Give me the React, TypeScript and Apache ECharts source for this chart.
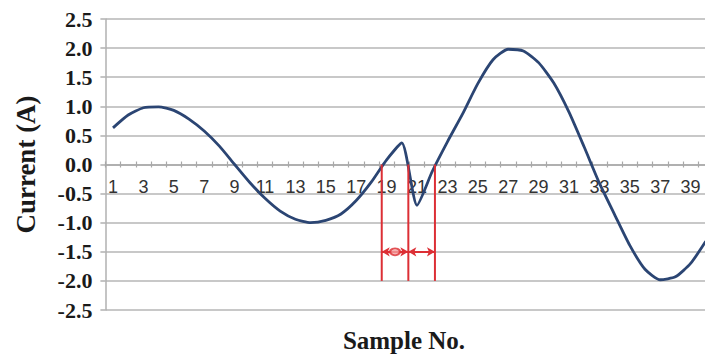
import React, { useEffect, useRef } from "react";
import * as echarts from "echarts";

const categories = [
  "1", "2", "3", "4", "5", "6", "7", "8", "9", "10",
  "11", "12", "13", "14", "15", "16", "17", "18", "19", "20",
  "21", "22", "23", "24", "25", "26", "27", "28", "29", "30",
  "31", "32", "33", "34", "35", "36", "37", "38", "39", "40",
];

const current = [
  0.63, 0.85, 0.975, 0.99, 0.93, 0.78, 0.575, 0.315, 0.0, -0.31,
  -0.58, -0.8, -0.94, -1.0, -0.96, -0.85, -0.62, -0.3, 0.08, 0.37,
  -0.7, -0.12, 0.39, 0.87, 1.39, 1.8, 1.98, 1.95, 1.75, 1.4,
  0.9, 0.3, -0.32, -0.86, -1.39, -1.8, -1.98, -1.93, -1.7, -1.32,
];

// zero-crossing markers (sample position), vertical extent and arrow level
const markerX = [18.68, 20.43, 22.18];
const markerTop = 0;
const markerBottom = -2;
const arrowY = -1.5;

const yTicks = { min: -2.5, max: 2.5, interval: 0.5 };

export default function App() {
  const ref = useRef<HTMLDivElement>(null);

  useEffect(() => {
    if (!ref.current) return;
    const chart = echarts.init(ref.current, null, { renderer: "svg" });
    const red = "#dc2f35";
    const gridTop = 19;
    const gridHeight = 291;
    // distance from the bottom edge of the grid to the zero line
    const zeroOffset = (gridHeight * (0 - yTicks.min)) / (yTicks.max - yTicks.min);
    const verticalSeries = markerX.map((x, i) => ({
      type: "line",
      name: "marker" + i,
      xAxisIndex: 2,
      yAxisIndex: 0,
      data: [
        [x, markerTop],
        [x, markerBottom],
      ],
      symbol: "none",
      lineStyle: { color: red, width: 2 },
      z: 4,
      silent: true,
    }));
    chart.setOption({
      animation: false,
      backgroundColor: "#ffffff",
      grid: {
        left: 105.4,
        width: 608,
        top: gridTop,
        height: gridHeight,
        containLabel: false,
        outerBoundsMode: "none",
      },
      xAxis: [
        {
          type: "category",
          data: categories,
          position: "bottom",
          offset: -zeroOffset,
          boundaryGap: true,
          axisLine: { show: true, onZero: false, lineStyle: { color: "#a8a8a8", width: 1.5 } },
          axisTick: { show: true, length: 3, interval: 0, lineStyle: { color: "#a8a8a8", width: 1.2 } },
          axisLabel: {
            interval: 1,
            fontFamily: "Liberation Sans",
            fontSize: 18,
            color: "#333333",
            margin: 13,
          },
          splitLine: { show: false },
        },
        {
          type: "category",
          data: categories,
          position: "top",
          offset: -(gridHeight - zeroOffset),
          boundaryGap: true,
          axisLine: { show: false, onZero: false },
          axisTick: { show: true, length: 3, interval: 0, lineStyle: { color: "#a8a8a8", width: 1.2 } },
          axisLabel: { show: false },
          splitLine: { show: false },
        },
        {
          type: "value",
          min: 0.5,
          max: 40.5,
          show: false,
          axisLine: { onZero: false },
        },
      ],
      yAxis: {
        type: "value",
        min: yTicks.min,
        max: yTicks.max,
        interval: yTicks.interval,
        name: "Current (A)",
        nameLocation: "middle",
        nameGap: 66,
        nameTextStyle: {
          fontFamily: "Liberation Serif",
          fontWeight: "bold",
          fontSize: 27,
          color: "#1a1a1a",
        },
        axisLine: { show: true, onZero: false, lineStyle: { color: "#b0b0b0", width: 1.5 } },
        axisTick: { show: true, length: 5, lineStyle: { color: "#b0b0b0", width: 1.5 } },
        axisLabel: {
          formatter: (v: number) => v.toFixed(1),
          fontFamily: "Liberation Serif",
          fontWeight: "bold",
          fontSize: 22,
          color: "#1a1a1a",
          margin: 13,
        },
        splitLine: { show: true, lineStyle: { color: "#c8c8c8", width: 2 } },
      },
      graphic: [
        {
          type: "text",
          x: 404,
          y: 340,
          style: {
            text: "Sample No.",
            textAlign: "center",
            textVerticalAlign: "middle",
            fontFamily: "Liberation Serif",
            fontWeight: "bold",
            fontSize: 25,
            fill: "#1a1a1a",
          },
        },
      ],
      series: [
        {
          type: "line",
          name: "Current",
          xAxisIndex: 0,
          yAxisIndex: 0,
          data: current,
          smooth: 0.2,
          symbol: "none",
          lineStyle: { color: "#2b4573", width: 2.8 },
          z: 3,
        },
        ...verticalSeries,
        {
          type: "scatter",
          name: "arrows",
          xAxisIndex: 2,
          yAxisIndex: 0,
          data: [[(markerX[0] + markerX[1]) / 2, arrowY]],
          symbol: "circle",
          symbolSize: [10, 7],
          itemStyle: { color: "#f4a0a0", borderColor: red, borderWidth: 2 },
          z: 5,
          silent: true,
          markLine: {
            silent: true,
            symbol: ["arrow", "arrow"],
            symbolSize: [7, 8],
            label: { show: false },
            lineStyle: { color: red, width: 2, type: "solid" },
            data: [
              [{ coord: [markerX[0], arrowY] }, { coord: [markerX[1], arrowY] }],
              [{ coord: [markerX[1], arrowY] }, { coord: [markerX[2], arrowY] }],
            ],
          },
        },
      ],
    });
    return () => chart.dispose();
  }, []);

  return <div ref={ref} style={{ width: 705, height: 354, position: "absolute", left: 0, top: 0 }} />;
}
